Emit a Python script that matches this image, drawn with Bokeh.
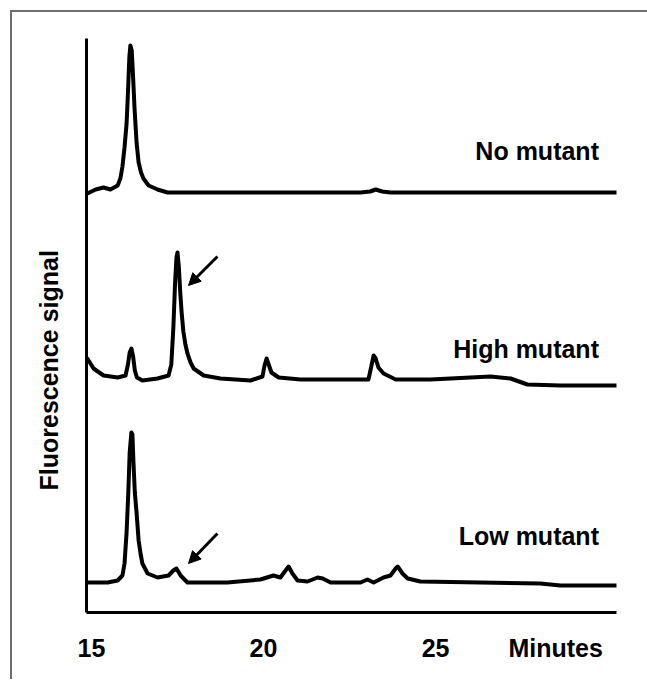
import math
from bokeh.plotting import figure
from bokeh.models import Arrow, NormalHead, Label, FixedTicker, Range1d, Title
from bokeh.embed import file_html
from bokeh.resources import INLINE

# ---- data (time in minutes, signal in arbitrary units; traces stacked) ----
no_t = [14.88, 15.0, 15.12, 15.35, 15.55, 15.76, 15.84, 15.90, 15.96, 16.02, 16.06,
        16.10, 16.13, 16.17, 16.21, 16.25, 16.31, 16.37, 16.44, 16.51, 16.66, 16.92,
        17.21, 19.5, 22.82, 23.1, 23.26, 23.45, 23.69, 26.0, 28.0, 30.26]
no_y = [419, 421, 423, 425, 423, 427, 434, 446, 465, 489, 520,
        555, 567, 562, 535, 505, 470, 450, 440, 434, 427, 423,
        420, 420, 420, 421, 423, 421, 420, 420, 420, 420]

high_t = [14.88, 15.06, 15.35, 15.76, 15.99, 16.06, 16.11, 16.16, 16.21, 16.26, 16.32,
          16.48, 16.92, 17.24, 17.32, 17.38, 17.43, 17.47, 17.50, 17.54, 17.58, 17.62,
          17.67, 17.73, 17.79, 17.88, 17.97, 18.26, 18.75, 19.62, 19.97, 20.03, 20.09,
          20.15, 20.23, 20.44, 21.08, 22.24, 23.05, 23.12, 23.20, 23.26, 23.34, 23.49,
          23.84, 24.85, 26.02, 26.60, 27.18, 27.67, 28.63, 30.26]
high_y = [254, 244, 237, 235, 237, 248, 260, 264, 256, 242, 235,
          232, 234, 237, 248, 285, 330, 355, 360, 345, 320, 300,
          281, 268, 259, 250, 244, 237, 234, 232, 236, 247, 254,
          248, 240, 235, 233, 233, 233, 244, 257, 254, 245, 239,
          233, 233, 235, 236, 234, 228, 227, 227]

low_t = [14.91, 15.47, 15.76, 15.90, 15.96, 16.02, 16.07, 16.11, 16.16, 16.19, 16.22,
         16.26, 16.31, 16.37, 16.43, 16.48, 16.63, 16.92, 17.24, 17.38, 17.47, 17.59,
         17.79, 18.95, 19.91, 20.29, 20.49, 20.64, 20.73, 20.84, 20.99, 21.28, 21.57,
         21.72, 21.95, 22.82, 23.02, 23.20, 23.49, 23.69, 23.84, 23.90, 24.04, 24.19,
         24.56, 26.31, 28.05, 28.63, 30.26]
low_y = [30, 30, 32, 37, 49, 80, 120, 160, 180, 178, 150,
         120, 100, 72, 58, 49, 39, 35, 37, 42, 44, 37,
         30, 30, 33, 37, 35, 42, 46, 39, 32, 31, 35,
         34, 30, 30, 33, 30, 35, 37, 44, 46, 39, 34,
         31, 30, 29, 27, 27]

series_names = ["No mutant", "High mutant", "Low mutant"]
tick_values = [15, 20, 25]
tick_labels = ["15", "20", "25"]
x_title = "Minutes"
y_title = "Fluorescence signal"

FONT = "Liberation Sans"
FS = "25px"

p = figure(width=650, height=669, output_backend="svg", toolbar_location=None,
           x_range=Range1d(14.855, 30.26), y_range=Range1d(0, 574),
           min_border_left=74, min_border_right=46, min_border_top=26,
           min_border_bottom=69)
p.styles = {"border-top": "2px solid #6e6e6e", "border-left": "2px solid #6e6e6e",
            "margin-left": "10px", "margin-top": "10px"}
p.outline_line_color = None
p.grid.visible = False
p.background_fill_color = "white"
p.border_fill_color = "white"

for xs, ys in [(no_t, no_y), (high_t, high_y), (low_t, low_y)]:
    p.line(xs, ys, line_color="black", line_width=4, line_join="round",
           line_cap="round")

# axes
minutes_pos = 28.49
ticks = tick_values + [minutes_pos]
overrides = {v: l for v, l in zip(tick_values, tick_labels)}
overrides[minutes_pos] = x_title
xa = p.xaxis[0]
xa.ticker = FixedTicker(ticks=ticks)
xa.major_label_overrides = overrides
xa.major_tick_line_color = None
xa.minor_tick_line_color = None
xa.axis_line_width = 3
xa.axis_line_color = "black"
xa.major_label_standoff = 15
xa.major_label_text_font = FONT
xa.major_label_text_font_style = "bold"
xa.major_label_text_font_size = FS
xa.major_label_text_color = "black"

ya = p.yaxis[0]
ya.ticker = FixedTicker(ticks=[])
ya.major_tick_line_color = None
ya.minor_tick_line_color = None
ya.major_label_text_font_size = "0px"
ya.axis_line_width = 3
ya.axis_line_color = "black"

# y title (left side panel, starting above the frame bottom)
p.add_layout(Title(text=y_title, align="left", offset=122, standoff=44,
                   vertical_align="top",
                   text_font=FONT, text_font_style="bold", text_font_size=FS,
                   text_color="black"), "left")

# series labels
label_pos = [(29.75, 462), (29.75, 264), (29.75, 77)]
for name, (lx, ly) in zip(series_names, label_pos):
    p.add_layout(Label(x=lx, y=ly, text=name, text_align="right",
                       text_baseline="middle", text_font=FONT,
                       text_font_style="bold", text_font_size=FS,
                       text_color="black"))

# arrows
for (x0, y0, x1, y1) in [(18.66, 356, 17.82, 327), (18.66, 79, 17.82, 49)]:
    p.add_layout(Arrow(x_start=x0, y_start=y0, x_end=x1, y_end=y1,
                       line_width=3, line_color="black",
                       end=NormalHead(size=12, fill_color="black", line_color="black")))

open("out.html", "w").write(file_html(p, INLINE))
